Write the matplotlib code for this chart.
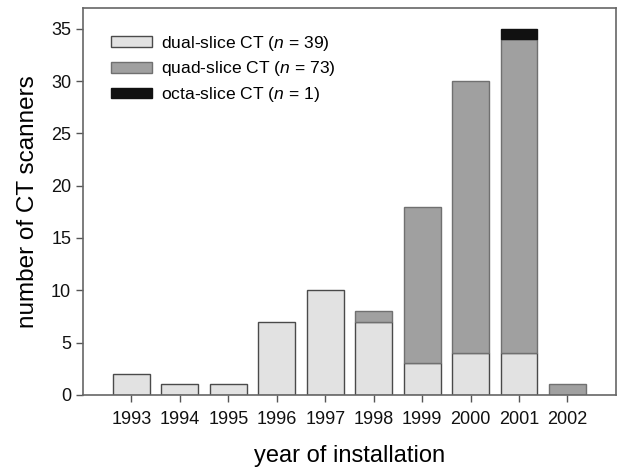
import numpy as np
import matplotlib.pyplot as plt

plt.rcParams['font.family'] = ['Liberation Sans', 'DejaVu Sans']
plt.rcParams['mathtext.fontset'] = 'custom'
plt.rcParams['mathtext.it'] = 'Liberation Sans:italic'
plt.rcParams['mathtext.rm'] = 'Liberation Sans'

years = [1993, 1994, 1995, 1996, 1997, 1998, 1999, 2000, 2001, 2002]
dual = [2, 1, 1, 7, 10, 7, 3, 4, 4, 0]
quad = [0, 0, 0, 0, 0, 1, 15, 26, 30, 1]
octa = [0, 0, 0, 0, 0, 0, 0, 0, 1, 0]

labels = [r'dual-slice CT ($n$ = 39)',
          r'quad-slice CT ($n$ = 73)',
          r'octa-slice CT ($n$ = 1)']
colors = ['#e2e2e2', '#a0a0a0', '#111111']
edges = ['#4a4a4a', '#707070', '#111111']

fig = plt.figure(figsize=(6.19, 4.70), dpi=100)
ax = fig.add_axes([0.134, 0.160, 0.861, 0.823])

x = np.array(years)
bottom = np.zeros(len(years))
for vals, c, e, lab in zip([dual, quad, octa], colors, edges, labels):
    v = np.array(vals, dtype=float)
    m = v > 0  # skip empty segments so no stray edge lines
    ax.bar(x[m], v[m], 0.76, bottom=bottom[m], color=c, edgecolor=e, linewidth=1.0, label=lab)
    bottom += v

ax.set_xlim(1992.0, 2003.0)
ax.set_ylim(0, 37)
ax.set_xticks(years)
ax.set_yticks(range(0, 36, 5))
ax.tick_params(direction='out', length=5, width=1, colors='#555555', labelcolor='#111111', labelsize=13)
ax.tick_params(axis='x', pad=7)
for s in ax.spines.values():
    s.set_color('#666666')
    s.set_linewidth(1.2)

ax.set_xlabel('year of installation', fontsize=17, labelpad=12)
ax.set_ylabel('number of CT scanners', fontsize=17.5, labelpad=9)

ax.legend(loc='upper left', frameon=False, fontsize=12.6, handlelength=2.35, handleheight=0.55,
          handletextpad=0.5, labelspacing=0.38, bbox_to_anchor=(0.03, 0.965), borderaxespad=0.3)

fig.savefig('out.png', dpi=100)
